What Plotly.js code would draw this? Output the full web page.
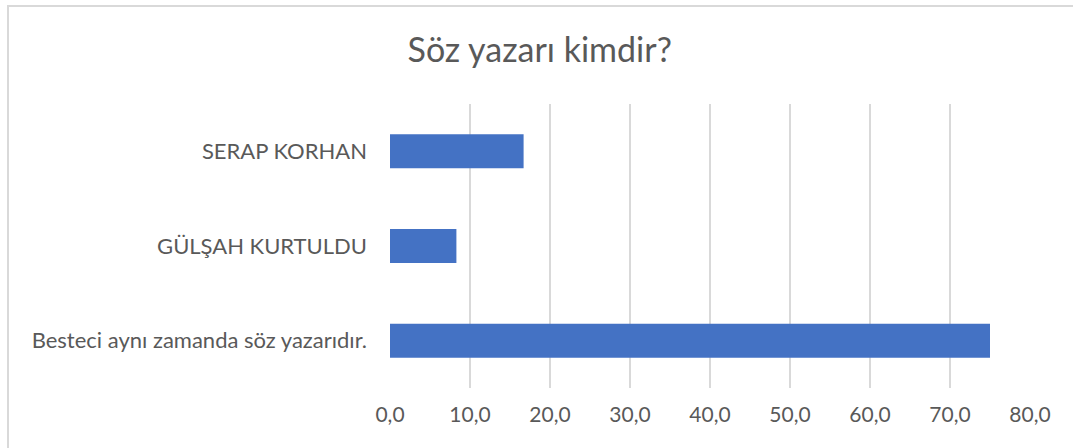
<!DOCTYPE html>
<html>
<head>
<meta charset="utf-8">
<script src="https://cdn.plot.ly/plotly-3.0.1.min.js"></script>
<style>
html,body{margin:0;padding:0;background:#fff;}
#wrap{position:relative;width:1073px;height:448px;overflow:hidden;}
#chart{position:absolute;left:0;top:0;width:1073px;height:448px;}
#frame{position:absolute;left:7px;top:5px;width:1080px;height:460px;border-top:2px solid #d9d9d9;border-left:2px solid #d9d9d9;pointer-events:none;}
</style>
</head>
<body>
<div id="wrap"><div id="chart"></div><div id="frame"></div></div>
<script>
const categories = ["Besteci aynı zamanda söz yazarıdır.", "GÜLŞAH KURTULDU", "SERAP KORHAN"];
const values = [75.0, 8.3, 16.7];
const chartTitle = "Söz yazarı kimdir?";

const font = "Lato, 'Open Sans', sans-serif";
const textColor = "#595959";

Plotly.newPlot("chart", [{
  type: "bar",
  orientation: "h",
  y: categories,
  x: values,
  marker: {color: "#4472C4"},
  hoverinfo: "x+y"
}], {
  width: 1073,
  height: 448,
  margin: {l: 390, r: 43, t: 104, b: 60},
  paper_bgcolor: "rgba(0,0,0,0)",
  plot_bgcolor: "rgba(0,0,0,0)",
  separators: ", ",
  bargap: 0.64,
  showlegend: false,
  title: {
    text: chartTitle,
    x: 0.503, xanchor: "center",
    y: 0.888, yanchor: "middle",
    font: {family: font, size: 34, color: textColor}
  },
  xaxis: {
    range: [0, 80],
    dtick: 10,
    tick0: 0,
    tickformat: ".1f",
    showgrid: true,
    gridcolor: "#d9d9d9",
    gridwidth: 2,
    zeroline: false,
    showline: false,
    ticks: "",
    ticklabelstandoff: 12,
    tickfont: {family: font, size: 21, color: textColor},
    fixedrange: true
  },
  yaxis: {
    showgrid: false,
    zeroline: false,
    showline: false,
    ticks: "",
    ticklabelstandoff: 22,
    tickfont: {family: font, size: 22, color: textColor},
    fixedrange: true
  }
}, {displayModeBar: false, staticPlot: true});
</script>
</body>
</html>
